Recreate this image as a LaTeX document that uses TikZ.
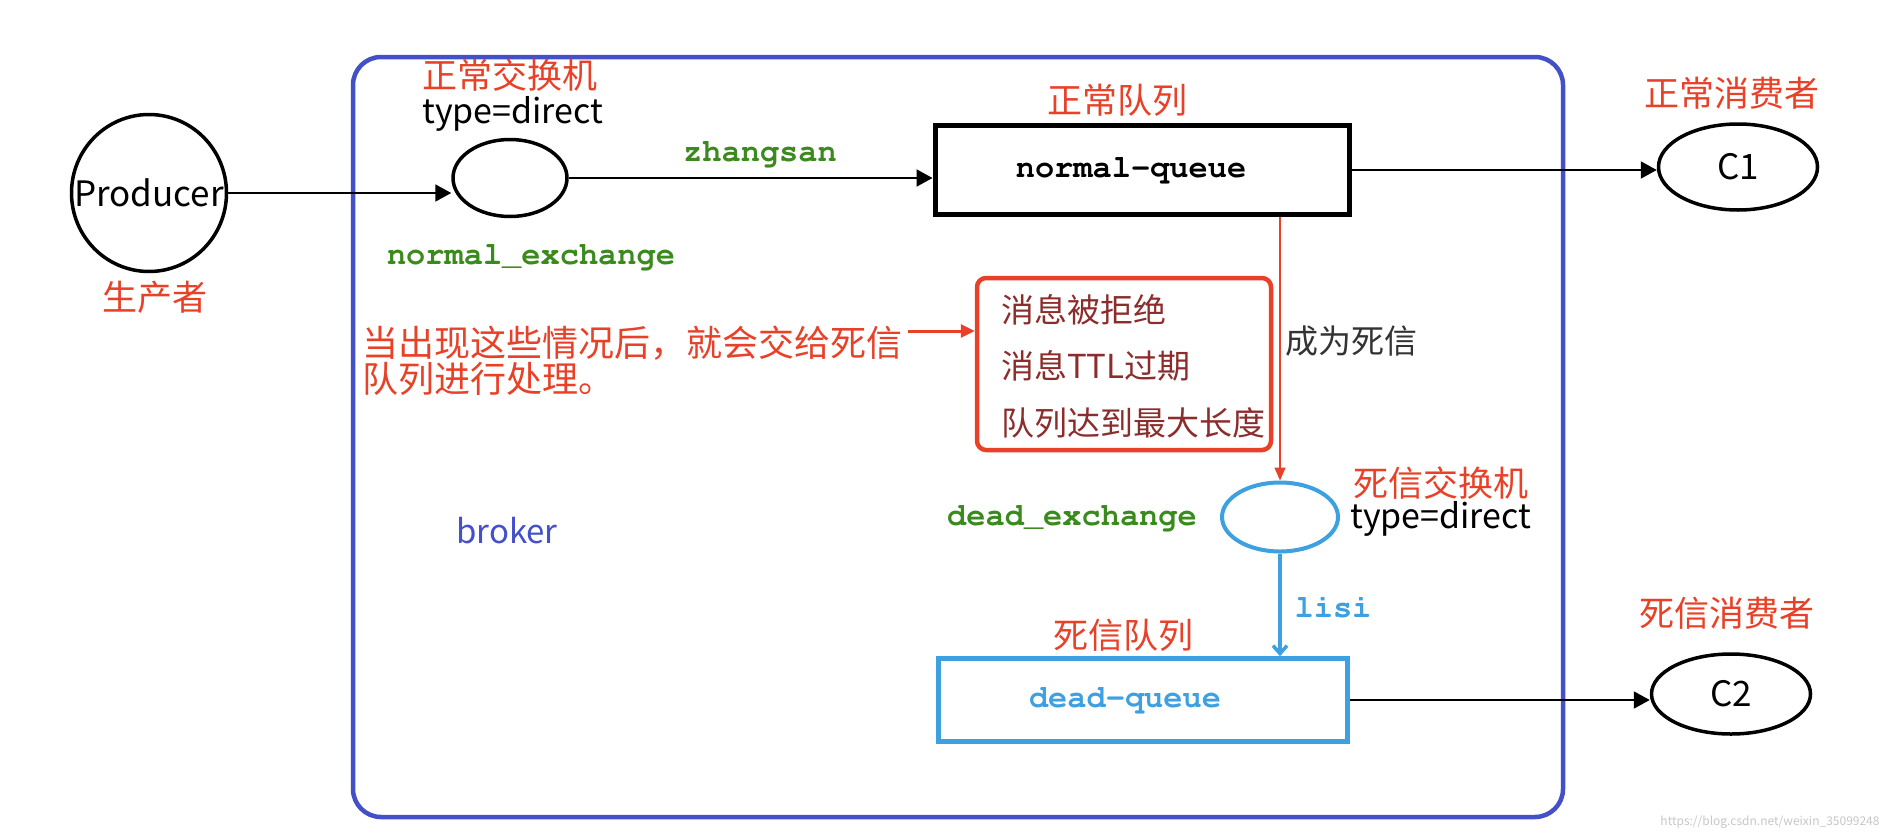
\documentclass[tikz,border=0pt]{standalone}
\usepackage[T1]{fontenc}
\usepackage{fontspec}
\setmainfont{Noto Sans CJK SC}
\usetikzlibrary{shapes.geometric,arrows.meta}
\newcommand\courb{\fontencoding{T1}\fontfamily{pcr}\fontseries{b}\fontshape{n}\fontsize{32}{32}\selectfont}
\definecolor{lred}{HTML}{E84128}
\definecolor{bblue}{HTML}{4450C8}
\definecolor{lgreen}{HTML}{3A8A1E}
\definecolor{lblue}{HTML}{3CA0E1}
\definecolor{maroon}{HTML}{8C2D2D}
\definecolor{dgray}{HTML}{333333}
\begin{document}
\begin{tikzpicture}[x=1pt,y=-1pt,
  lbl/.style={inner sep=0pt, text=lred, font=\fontsize{35}{35}\selectfont},
  sans/.style={inner sep=0pt, text=black, font=\fontsize{34}{34}\selectfont},
  item/.style={inner sep=0pt, text=maroon, font=\fontsize{33}{33}\selectfont, anchor=west},
  monog/.style={inner sep=0pt, text=lgreen, font=\courb},
  monob/.style={inner sep=0pt, text=lblue, font=\courb},
  ell/.style={ellipse, draw=black, line width=3.5pt, inner sep=0pt, font=\fontsize{35}{35}\selectfont},
  arr/.style={line width=2pt, -{Triangle[length=16pt,width=17pt]}},
  redarr/.style={draw=lred, line width=3pt, -{Triangle[length=14pt,width=13pt]}},
  redline/.style={draw=lred, line width=1.5pt, -{Triangle[length=13pt,width=11pt]}},
  blueline/.style={draw=lblue, line width=3.5pt, -{Straight Barb[length=8pt,width=14pt]}}]
\useasboundingbox (0,0) rectangle (1892,838);
\fill[white] (0,0) rectangle (1892,838);

% broker frame
\node[draw=bblue, line width=4.5pt, rounded corners=28pt, minimum width=1210pt, minimum height=760pt, inner sep=0pt] (brokerbox) at (958,437) {};
\node[inner sep=0pt, text=bblue, font=\fontsize{33}{33}\selectfont] (brokerlbl) at (507,531) {broker};

% producer
\node[ell, minimum width=155pt, minimum height=157pt] (prod) at (149,193) {\makebox[0pt]{Producer}};
\node[lbl] (prodlbl) at (155,297) {生产者};

% normal exchange
\node[ell, minimum width=114pt, minimum height=77pt] (nex) at (510,178) {};
\node[lbl, anchor=west] (nexname) at (422,75) {正常交换机};
\node[sans, anchor=west] (nextype) at (422,114) {type=direct};
\node[monog] (nexlbl) at (531,257) {normal\_exchange};

% normal queue
\node[draw=black, line width=5pt, minimum width=414pt, minimum height=89pt, inner sep=0pt, font=\courb] (nq) at (1142,170) {\hspace*{-22pt}normal-queue};
\node[lbl] (nqname) at (1117,100) {正常队列};

% consumer 1
\node[ell, minimum width=159pt, minimum height=86pt] (c1) at (1738,167) {\makebox[0pt]{C1}};
\node[lbl] (c1name) at (1732,93) {正常消费者};

\draw[arr] (prod.east) -- (prod.east -| nex.west);
\draw[arr] (nex.east) -- (nex.east -| nq.west);
\node[monog] (zs) at (760,154) {zhangsan};
\draw[arr] (nq.east) -- (nq.east -| c1.west);

% dead exchange
\node[ell, draw=lblue, line width=4pt, minimum width=116pt, minimum height=69pt] (dex) at (1280,517) {};
\draw[redline] (dex.north |- nq.south) -- (dex.north);
\node[inner sep=0pt, text=dgray, font=\fontsize{33}{33}\selectfont] (become) at (1351,341) {成为死信};
\node[monog] (dexlbl) at (1072,518) {dead\_exchange};
\node[lbl, anchor=west] (dexname) at (1353,483) {死信交换机};
\node[sans, anchor=west] (dextype) at (1350,519) {type=direct};

% reasons box
\node[draw=lred, line width=4.5pt, rounded corners=9pt, minimum width=294pt, minimum height=172pt, inner sep=0pt] (rbox) at (1124,364) {};
\node[item] (r1) at (1001,310) {消息被拒绝};
\node[item] (r2) at (1001,366) {消息TTL过期};
\node[item] (r3) at (1001,423) {队列达到最大长度};

% explanation
\node[lbl, font=\fontsize{36}{36}\selectfont, anchor=base west] (why1) at (362,356) {当出现这些情况后，就会交给死信};
\node[lbl, font=\fontsize{36}{36}\selectfont, anchor=base west] (why2) at (362,392) {队列进行处理。};
\coordinate (wt) at (908,331);
\draw[redarr] (wt) -- (wt -| rbox.west);

% dead queue
\node[draw=lblue, line width=4.5pt, minimum width=409pt, minimum height=83pt, inner sep=0pt, text=lblue, font=\courb] (dq) at (1143,700) {\hspace*{-36pt}dead-queue};
\node[lbl] (dqname) at (1123,635) {死信队列};
\draw[blueline] (dex.south) -- (dex.south |- dq.north);
\node[monob] (lisi) at (1333,607) {lisi};

% consumer 2
\node[ell, minimum width=159pt, minimum height=80pt] (c2) at (1731,694) {\makebox[0pt]{C2}};
\node[lbl] (c2name) at (1727,613) {死信消费者};
\draw[arr] (dq.east) -- (dq.east -| c2.west);

% watermark
\node[inner sep=0pt, text=black!22, font=\fontsize{12}{12}\selectfont] (wm) at (1770,822) {https://blog.csdn.net/weixin\_35099248};
\end{tikzpicture}
\end{document}
